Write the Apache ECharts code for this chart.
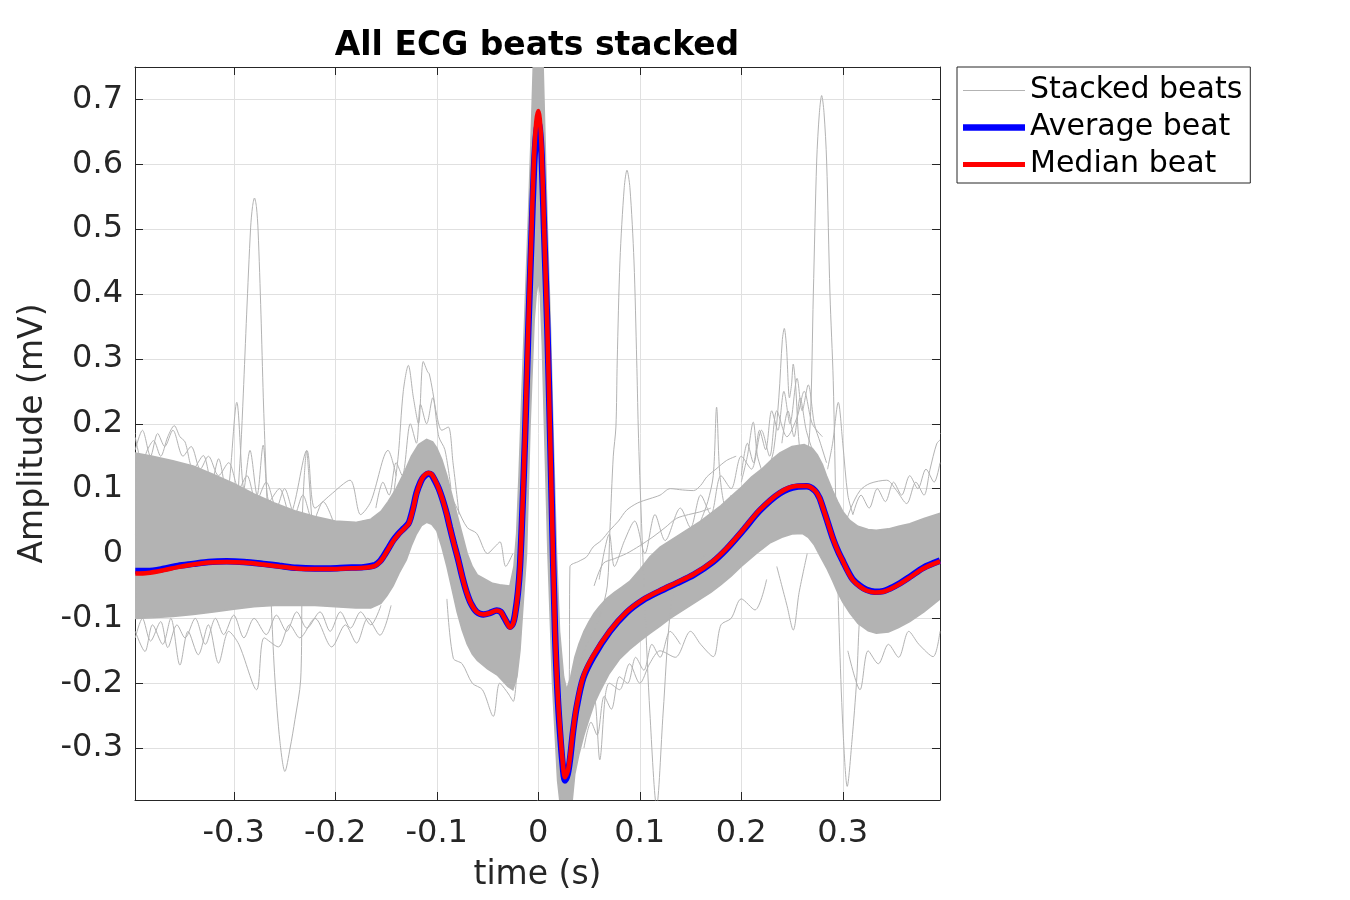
<!DOCTYPE html>
<html><head><meta charset="utf-8">
<script src="https://cdn.jsdelivr.net/npm/echarts@6/dist/echarts.min.js"></script>
<style>html,body{margin:0;padding:0;background:#fff}#c{width:1350px;height:900px}</style>
</head><body><div id="c"></div>
<script>
// ---- tick values / labels ----
const xTicks = [-0.3, -0.2, -0.1, 0, 0.1, 0.2, 0.3];
const xTickLabels = ['-0.3', '-0.2', '-0.1', '0', '0.1', '0.2', '0.3'];
const yTicks = [-0.3, -0.2, -0.1, 0, 0.1, 0.2, 0.3, 0.4, 0.5, 0.6, 0.7];
const yTickLabels = ['-0.3', '-0.2', '-0.1', '0', '0.1', '0.2', '0.3', '0.4', '0.5', '0.6', '0.7'];

// ---- average beat [time s, amplitude mV] ----
const averageBeat = [[-0.397,-0.027],[-0.385,-0.027],[-0.37,-0.024],[-0.355,-0.019],[-0.34,-0.016],[-0.325,-0.013],[-0.307,-0.012],[-0.29,-0.013],[-0.271,-0.016],[-0.255,-0.019],[-0.238,-0.022],[-0.22,-0.023],[-0.205,-0.023],[-0.19,-0.022],[-0.172,-0.021],[-0.161,-0.018],[-0.156,-0.012],[-0.1527,-0.005],[-0.148,0.007],[-0.143,0.020],[-0.138,0.030],[-0.133,0.038],[-0.128,0.046],[-0.126,0.054],[-0.123,0.072],[-0.120,0.093],[-0.116,0.110],[-0.113,0.118],[-0.108,0.123],[-0.105,0.121],[-0.102,0.113],[-0.098,0.100],[-0.0936,0.080],[-0.090,0.060],[-0.087,0.040],[-0.083,0.015],[-0.0788,-0.010],[-0.075,-0.035],[-0.0705,-0.060],[-0.066,-0.078],[-0.0607,-0.090],[-0.054,-0.094],[-0.048,-0.092],[-0.041,-0.088],[-0.037,-0.090],[-0.0345,-0.096],[-0.031,-0.106],[-0.0279,-0.113],[-0.025,-0.108],[-0.023,-0.095],[-0.020,-0.060],[-0.018,-0.020],[-0.0155,0.070],[-0.013,0.180],[-0.0099,0.340],[-0.0065,0.495],[-0.0042,0.595],[-0.002,0.648],[0.0,0.665],[0.0015,0.655],[0.0033,0.615],[0.0058,0.495],[0.009,0.345],[0.0115,0.195],[0.0132,0.085],[0.0165,-0.120],[0.019,-0.215],[0.0214,-0.275],[0.024,-0.325],[0.0263,-0.350],[0.029,-0.340],[0.0312,-0.318],[0.0345,-0.272],[0.0378,-0.237],[0.0443,-0.192],[0.054,-0.160],[0.0706,-0.120],[0.087,-0.091],[0.103,-0.072],[0.120,-0.058],[0.136,-0.046],[0.153,-0.033],[0.172,-0.013],[0.1856,0.007],[0.202,0.036],[0.218,0.066],[0.238,0.093],[0.2546,0.103],[0.2644,0.1035],[0.2726,0.097],[0.277,0.086],[0.281,0.068],[0.2856,0.046],[0.2906,0.022],[0.2955,0.003],[0.3005,-0.013],[0.305,-0.027],[0.310,-0.040],[0.317,-0.050],[0.3234,-0.056],[0.3317,-0.059],[0.340,-0.058],[0.3465,-0.054],[0.355,-0.047],[0.366,-0.036],[0.3793,-0.022],[0.3958,-0.011]];

// ---- median beat [time s, amplitude mV] ----
const medianBeat = [[-0.397,-0.031],[-0.385,-0.030],[-0.37,-0.026],[-0.355,-0.021],[-0.34,-0.017],[-0.325,-0.014],[-0.307,-0.013],[-0.29,-0.014],[-0.271,-0.017],[-0.255,-0.020],[-0.238,-0.023],[-0.22,-0.024],[-0.205,-0.024],[-0.19,-0.023],[-0.172,-0.022],[-0.161,-0.019],[-0.156,-0.013],[-0.1527,-0.006],[-0.148,0.006],[-0.143,0.019],[-0.138,0.029],[-0.133,0.037],[-0.128,0.045],[-0.126,0.053],[-0.123,0.071],[-0.120,0.092],[-0.116,0.110],[-0.113,0.119],[-0.108,0.124],[-0.105,0.122],[-0.102,0.114],[-0.098,0.100],[-0.0936,0.080],[-0.090,0.060],[-0.087,0.040],[-0.083,0.015],[-0.0788,-0.010],[-0.075,-0.035],[-0.0705,-0.060],[-0.066,-0.078],[-0.0607,-0.090],[-0.054,-0.094],[-0.048,-0.092],[-0.041,-0.088],[-0.037,-0.090],[-0.0345,-0.096],[-0.031,-0.106],[-0.0279,-0.114],[-0.025,-0.109],[-0.023,-0.096],[-0.020,-0.060],[-0.018,-0.020],[-0.0155,0.072],[-0.013,0.185],[-0.0099,0.345],[-0.0065,0.505],[-0.0042,0.610],[-0.002,0.665],[0.0,0.682],[0.0015,0.670],[0.0033,0.625],[0.0058,0.500],[0.009,0.345],[0.0115,0.192],[0.0132,0.082],[0.0165,-0.120],[0.019,-0.212],[0.0214,-0.270],[0.024,-0.320],[0.0263,-0.345],[0.029,-0.336],[0.0312,-0.315],[0.0345,-0.270],[0.0378,-0.235],[0.0443,-0.190],[0.054,-0.158],[0.0706,-0.119],[0.087,-0.090],[0.103,-0.071],[0.120,-0.057],[0.136,-0.045],[0.153,-0.032],[0.172,-0.012],[0.1856,0.008],[0.202,0.037],[0.218,0.067],[0.238,0.094],[0.2546,0.104],[0.2644,0.104],[0.2726,0.097],[0.277,0.086],[0.281,0.068],[0.2856,0.046],[0.2906,0.022],[0.2955,0.003],[0.3005,-0.013],[0.305,-0.028],[0.310,-0.041],[0.317,-0.051],[0.3234,-0.057],[0.3317,-0.060],[0.340,-0.059],[0.3465,-0.055],[0.355,-0.048],[0.366,-0.037],[0.3793,-0.023],[0.3958,-0.012]];

// ---- stacked beats: dense band envelopes (max / min of the bulk of beats) ----
const bandUpper = [[-0.397,0.155],[-0.38,0.15],[-0.36,0.143],[-0.34,0.135],[-0.32,0.122],[-0.30,0.108],[-0.28,0.092],[-0.26,0.078],[-0.24,0.066],[-0.22,0.057],[-0.2,0.05],[-0.18,0.048],[-0.165,0.053],[-0.155,0.065],[-0.148,0.08],[-0.14,0.10],[-0.132,0.125],[-0.125,0.15],[-0.118,0.168],[-0.11,0.176],[-0.104,0.172],[-0.1,0.163],[-0.095,0.145],[-0.09,0.12],[-0.085,0.09],[-0.08,0.06],[-0.075,0.03],[-0.07,0.0],[-0.065,-0.02],[-0.06,-0.033],[-0.052,-0.04],[-0.045,-0.046],[-0.038,-0.048],[-0.028,-0.05],[-0.024,-0.02],[-0.0213,0.031],[-0.019,0.12],[-0.0164,0.236],[-0.013,0.38],[-0.0095,0.53],[-0.0065,0.67],[-0.004,0.8],[0.004,0.8],[0.0065,0.65],[0.009,0.5],[0.012,0.35],[0.0145,0.195],[0.018,0.0],[0.021,-0.12],[0.025,-0.19],[0.028,-0.21],[0.032,-0.19],[0.036,-0.16],[0.04,-0.14],[0.045,-0.12],[0.05,-0.105],[0.055,-0.092],[0.06,-0.082],[0.067,-0.07],[0.075,-0.06],[0.082,-0.052],[0.09,-0.043],[0.1,-0.025],[0.11,-0.005],[0.12,0.01],[0.13,0.02],[0.14,0.03],[0.15,0.04],[0.16,0.05],[0.17,0.062],[0.18,0.074],[0.19,0.088],[0.2,0.102],[0.21,0.118],[0.22,0.13],[0.23,0.145],[0.238,0.155],[0.25,0.165],[0.262,0.168],[0.27,0.162],[0.275,0.152],[0.28,0.137],[0.284,0.12],[0.29,0.097],[0.295,0.08],[0.3,0.065],[0.307,0.051],[0.315,0.042],[0.325,0.037],[0.333,0.036],[0.345,0.038],[0.355,0.042],[0.366,0.046],[0.38,0.054],[0.396,0.062]];
const bandLower = [[-0.397,-0.10],[-0.38,-0.099],[-0.36,-0.097],[-0.34,-0.094],[-0.32,-0.09],[-0.30,-0.086],[-0.28,-0.082],[-0.26,-0.08],[-0.24,-0.08],[-0.22,-0.08],[-0.2,-0.082],[-0.18,-0.084],[-0.165,-0.084],[-0.155,-0.077],[-0.149,-0.065],[-0.143,-0.05],[-0.137,-0.03],[-0.13,-0.01],[-0.125,0.012],[-0.12,0.03],[-0.115,0.043],[-0.11,0.048],[-0.105,0.045],[-0.1,0.035],[-0.095,0.01],[-0.09,-0.02],[-0.085,-0.055],[-0.08,-0.09],[-0.075,-0.118],[-0.07,-0.14],[-0.065,-0.155],[-0.06,-0.165],[-0.05,-0.178],[-0.04,-0.188],[-0.03,-0.205],[-0.025,-0.21],[-0.021,-0.19],[-0.018,-0.15],[-0.015,-0.08],[-0.0115,0.0],[-0.008,0.2],[-0.004,0.36],[-0.002,0.4],[0.0,0.42],[0.002,0.4],[0.004,0.32],[0.006,0.2],[0.0095,0.0],[0.014,-0.2],[0.019,-0.35],[0.024,-0.42],[0.031,-0.42],[0.036,-0.34],[0.04,-0.31],[0.045,-0.28],[0.05,-0.255],[0.055,-0.232],[0.06,-0.215],[0.07,-0.185],[0.08,-0.163],[0.09,-0.148],[0.1,-0.135],[0.11,-0.123],[0.12,-0.112],[0.13,-0.1],[0.14,-0.09],[0.15,-0.08],[0.16,-0.07],[0.17,-0.06],[0.18,-0.048],[0.19,-0.035],[0.2,-0.02],[0.215,0.0],[0.228,0.016],[0.24,0.025],[0.25,0.03],[0.26,0.031],[0.266,0.025],[0.272,0.013],[0.278,-0.005],[0.284,-0.022],[0.29,-0.042],[0.295,-0.06],[0.3,-0.075],[0.307,-0.092],[0.315,-0.108],[0.325,-0.119],[0.333,-0.123],[0.345,-0.121],[0.355,-0.114],[0.366,-0.105],[0.38,-0.09],[0.396,-0.07]];

// ---- stacked beats: individual traces that leave the band ----
const beatA = [[-0.397,0.03],[-0.38,0.06],[-0.365,0.02],[-0.35,0.05],[-0.335,0.0],[-0.32,0.03],[-0.305,-0.01],[-0.298,0.03],[-0.295,0.113],[-0.293,0.164],[-0.2906,0.246],[-0.2873,0.369],[-0.2834,0.502],[-0.2815,0.535],[-0.2796,0.548],[-0.2777,0.535],[-0.276,0.497],[-0.2732,0.369],[-0.2709,0.241],[-0.2686,0.138],[-0.2667,0.06],[-0.2627,-0.092],[-0.2594,-0.195],[-0.2545,-0.29],[-0.2496,-0.336],[-0.2445,-0.30],[-0.2397,-0.256],[-0.2341,-0.195],[-0.233,-0.092],[-0.2325,0.05],[-0.2305,0.12],[-0.2282,0.158],[-0.226,0.12],[-0.222,0.04],[-0.215,0.0],[-0.205,0.03],[-0.19,-0.02],[-0.175,0.02],[-0.16,-0.01]];
const beatB = [[0.035,-0.2],[0.045,-0.15],[0.055,-0.12],[0.062,-0.09],[0.068,-0.05],[0.0706,0.036],[0.0739,0.15],[0.0765,0.195],[0.0778,0.297],[0.0805,0.451],[0.0847,0.564],[0.0874,0.591],[0.0903,0.564],[0.0943,0.451],[0.097,0.297],[0.0985,0.195],[0.1,0.12],[0.105,-0.08],[0.11,-0.246],[0.1166,-0.39],[0.123,-0.246],[0.13,-0.092],[0.138,-0.04],[0.15,-0.03],[0.165,0.0]];
const beatC = [[0.22,0.07],[0.24,0.12],[0.255,0.10],[0.262,0.12],[0.2677,0.195],[0.271,0.40],[0.2743,0.605],[0.277,0.68],[0.2792,0.706],[0.2815,0.68],[0.2841,0.605],[0.2874,0.40],[0.2906,0.267],[0.2935,0.05],[0.297,-0.144],[0.3005,-0.28],[0.3044,-0.359],[0.309,-0.29],[0.3137,-0.195],[0.317,-0.092],[0.322,-0.05],[0.33,-0.03],[0.345,-0.06],[0.36,-0.03]];
const beatD = [[0.225,0.12],[0.232,0.16],[0.237,0.24],[0.2405,0.33],[0.2424,0.347],[0.2445,0.32],[0.2475,0.24],[0.2495,0.26],[0.2512,0.292],[0.2535,0.26],[0.257,0.17],[0.262,0.13],[0.27,0.14]];
const beatE = [[0.16,0.05],[0.167,0.08],[0.1724,0.12],[0.1757,0.2256],[0.179,0.12],[0.185,0.07],[0.19,0.09]];
const beatF = [[0.2,0.11],[0.206,0.15],[0.2118,0.2025],[0.216,0.15],[0.222,0.12]];
const beatG = [[0.285,0.13],[0.29,0.17],[0.2956,0.233],[0.3,0.17],[0.305,0.09],[0.31,0.06]];
const beatH = [[-0.145,0.06],[-0.138,0.15],[-0.133,0.25],[-0.128,0.29],[-0.123,0.24],[-0.118,0.2],[-0.1133,0.296],[-0.109,0.28],[-0.1074,0.277],[-0.104,0.25],[-0.1,0.213],[-0.095,0.19],[-0.0887,0.195],[-0.084,0.14],[-0.078,0.06]];
const beatI = [[-0.397,0.179],[-0.39,0.14],[-0.385,0.16],[-0.379,0.174],[-0.372,0.15],[-0.365,0.18],[-0.3586,0.197],[-0.353,0.18],[-0.348,0.172],[-0.34,0.13],[-0.33,0.151],[-0.322,0.11],[-0.315,0.146],[-0.307,0.09],[-0.297,0.233],[-0.29,0.1],[-0.284,0.159],[-0.277,0.09],[-0.271,0.167],[-0.265,0.08],[-0.255,0.1],[-0.245,0.06],[-0.228,0.159],[-0.22,0.07],[-0.205,0.09],[-0.1855,0.113],[-0.175,0.06],[-0.165,0.08],[-0.148,0.159],[-0.14,0.12]];
const beatJ = [[-0.397,-0.12],[-0.3875,-0.151],[-0.38,-0.11],[-0.37,-0.14],[-0.362,-0.1],[-0.353,-0.172],[-0.345,-0.12],[-0.335,-0.156],[-0.325,-0.11],[-0.315,-0.169],[-0.305,-0.12],[-0.295,-0.14],[-0.2775,-0.21],[-0.27,-0.13],[-0.256,-0.144],[-0.245,-0.11],[-0.235,-0.13],[-0.22,-0.1],[-0.2035,-0.144],[-0.19,-0.11],[-0.179,-0.138],[-0.168,-0.1],[-0.156,-0.126],[-0.145,-0.08]];
const beatK = [[-0.09,-0.07],[-0.0837,-0.1615],[-0.075,-0.17],[-0.065,-0.2],[-0.055,-0.21],[-0.0443,-0.251],[-0.038,-0.2],[-0.03,-0.215],[-0.0246,-0.228],[-0.02,-0.15]];
const beatL = [[-0.09,0.1],[-0.08,0.07],[-0.07,0.04],[-0.0607,0.031],[-0.05,0.0],[-0.043,0.01],[-0.0377,0.018],[-0.032,-0.02],[-0.025,0.0]];
const beatM = [[0.024,-0.33],[0.028,-0.30],[0.0305,-0.2],[0.0312,-0.0205],[0.04,-0.012],[0.0477,-0.005],[0.054,0.010],[0.062,0.02],[0.0706,0.036],[0.079,0.05],[0.087,0.0667],[0.098,0.078],[0.11,0.0846],[0.12,0.09],[0.13,0.10],[0.142,0.098],[0.153,0.097],[0.16,0.105],[0.166,0.118],[0.175,0.13],[0.1856,0.1435],[0.195,0.15]];
const beatN = [[0.055,-0.05],[0.064,-0.0154],[0.075,-0.008],[0.087,0.0],[0.1,0.012],[0.113,0.0256],[0.125,0.04],[0.136,0.054],[0.148,0.06],[0.159,0.064],[0.17,0.07]];
const beatO = [[0.04,-0.30],[0.05,-0.24],[0.055,-0.22],[0.0606,-0.318],[0.066,-0.22],[0.07,-0.2],[0.08,-0.21],[0.09,-0.17],[0.1,-0.2],[0.11,-0.169],[0.12,-0.15],[0.135,-0.16],[0.15,-0.12],[0.16,-0.14],[0.1724,-0.159],[0.18,-0.11],[0.19,-0.1],[0.2,-0.07],[0.2135,-0.087],[0.225,-0.04]];
const beatP = [[0.06,-0.04],[0.07,0.03],[0.075,-0.02],[0.085,0.02],[0.095,0.05],[0.105,0.0],[0.115,0.06],[0.125,0.02],[0.14,0.07],[0.15,0.04],[0.16,0.09],[0.17,0.06],[0.18,0.12],[0.19,0.1],[0.2,0.15],[0.21,0.13],[0.22,0.19],[0.228,0.15],[0.235,0.22],[0.245,0.18],[0.255,0.21],[0.262,0.25],[0.27,0.2],[0.28,0.18]];
const beatQ = [[0.3005,0.036],[0.308,0.07],[0.317,0.097],[0.3268,0.108],[0.3433,0.113],[0.353,0.097],[0.363,0.077],[0.372,0.11],[0.38,0.09],[0.386,0.13],[0.3925,0.169],[0.3958,0.175]];
const beatR = [[0.305,-0.15],[0.317,-0.21],[0.325,-0.15],[0.335,-0.17],[0.345,-0.14],[0.355,-0.16],[0.365,-0.12],[0.375,-0.14],[0.389,-0.159],[0.3958,-0.12]];
const beatS = [[0.235,-0.02],[0.245,-0.08],[0.2512,-0.118],[0.257,-0.06],[0.265,0.0]];
const beatT = [[0.24,0.17],[0.246,0.22],[0.252,0.18],[0.258,0.24],[0.264,0.19],[0.27,0.16]];
const beatU = [[-0.397,0.16],[-0.39,0.19],[-0.382,0.15],[-0.375,0.185],[-0.368,0.165],[-0.36,0.19],[-0.35,0.15],[-0.342,0.165],[-0.333,0.13],[-0.325,0.15],[-0.315,0.12],[-0.305,0.14],[-0.295,0.1],[-0.287,0.12],[-0.278,0.08],[-0.268,0.11],[-0.258,0.07],[-0.25,0.1],[-0.24,0.06],[-0.232,0.09],[-0.222,0.05],[-0.212,0.08],[-0.2,0.04]];
const beatV = [[-0.397,-0.13],[-0.39,-0.1],[-0.382,-0.135],[-0.372,-0.105],[-0.365,-0.145],[-0.356,-0.11],[-0.348,-0.13],[-0.338,-0.1],[-0.328,-0.14],[-0.318,-0.1],[-0.31,-0.125],[-0.3,-0.095],[-0.29,-0.13],[-0.28,-0.1],[-0.268,-0.125],[-0.258,-0.095],[-0.248,-0.12],[-0.238,-0.09],[-0.228,-0.115],[-0.215,-0.09],[-0.205,-0.12],[-0.195,-0.09],[-0.185,-0.115],[-0.175,-0.09],[-0.165,-0.11],[-0.155,-0.08]];
const beatW = [[-0.16,0.07],[-0.153,0.11],[-0.147,0.09],[-0.14,0.14],[-0.134,0.12],[-0.126,0.2],[-0.12,0.17],[-0.116,0.23],[-0.11,0.2],[-0.104,0.24],[-0.098,0.18],[-0.092,0.16],[-0.086,0.1]];
const beatX = [[0.2,0.12],[0.206,0.17],[0.212,0.14],[0.218,0.19],[0.224,0.16],[0.23,0.22],[0.236,0.19],[0.242,0.25],[0.248,0.2],[0.255,0.27],[0.26,0.22],[0.266,0.26],[0.272,0.2],[0.278,0.17],[0.284,0.14]];
const beatY = [[0.045,-0.3],[0.052,-0.26],[0.058,-0.28],[0.065,-0.22],[0.072,-0.24],[0.08,-0.19],[0.088,-0.2],[0.096,-0.16],[0.104,-0.18],[0.112,-0.14],[0.12,-0.16],[0.13,-0.12],[0.14,-0.14]];
const beatZ = [[0.31,0.06],[0.318,0.09],[0.326,0.07],[0.334,0.1],[0.342,0.08],[0.35,0.11],[0.358,0.09],[0.366,0.12],[0.374,0.1],[0.382,0.13],[0.39,0.11],[0.3958,0.14]];

const outlierBeats = [beatA, beatB, beatC, beatD, beatE, beatF, beatG, beatH, beatI, beatJ, beatK, beatL, beatM, beatN, beatO, beatP, beatQ, beatR, beatS, beatT, beatU, beatV, beatW, beatX, beatY, beatZ];

// ---- build chart ----
const FONT = 'DejaVu Sans';
const TXT = '#262626';
const GREY = '#b3b3b3';
const bandPoly = bandUpper.concat(bandLower.slice().reverse());

function labelFrom(ticks, labels) {
  return function (v) {
    let best = 0;
    for (let i = 1; i < ticks.length; i++) if (Math.abs(ticks[i] - v) < Math.abs(ticks[best] - v)) best = i;
    return labels[best];
  };
}

const series = [];
outlierBeats.forEach(function (b) {
  series.push({
    name: 'Stacked beats', type: 'line', data: b, symbol: 'none', smooth: 0.3,
    silent: true, z: 2,
    lineStyle: { color: GREY, width: 1 }, itemStyle: { color: GREY }
  });
});
series.push({
  name: 'Stacked beats', type: 'custom', data: bandPoly, clip: true, silent: true, z: 2,
  encode: { x: 0, y: 1 },
  renderItem: function (params, api) {
    if (params.dataIndex !== 0) return null;
    const pts = bandPoly.map(function (p) { return api.coord(p); });
    return { type: 'polygon', shape: { points: pts }, style: { fill: GREY, stroke: GREY, lineWidth: 1.5 } };
  }
});
series.push({
  name: 'Average beat', type: 'line', data: averageBeat, symbol: 'none', smooth: 0.3, z: 5,
  lineStyle: { color: '#0000ff', width: 6.5 }, itemStyle: { color: '#0000ff' }
});
series.push({
  name: 'Median beat', type: 'line', data: medianBeat, symbol: 'none', smooth: 0.3, z: 6,
  lineStyle: { color: '#ff0000', width: 4.5 }, itemStyle: { color: '#ff0000' }
});

const XMIN = -0.3973, XMAX = 0.3958, YMIN = -0.38, YMAX = 0.75;
const tickStyle = { show: true, inside: true, length: 8, lineStyle: { color: TXT, width: 1 } };

const option = {
  animation: false,
  backgroundColor: '#ffffff',
  title: {
    text: 'All ECG beats stacked', left: 532, top: 25, textAlign: 'center',
    textStyle: { fontFamily: FONT, fontWeight: 'bold', fontSize: 33, color: '#000' }
  },
  legend: {
    left: 957, top: 67, orient: 'vertical',
    padding: [5, 8, 0, 6], itemGap: 0, itemWidth: 62, itemHeight: 14,
    borderColor: TXT, borderWidth: 1, backgroundColor: '#fff',
    textStyle: { fontFamily: FONT, fontSize: 30, color: '#000', lineHeight: 37 },
    data: [
      { name: 'Stacked beats', icon: 'path://M0,0H62V1H0Z' },
      { name: 'Average beat', icon: 'path://M0,0H62V6.5H0Z' },
      { name: 'Median beat', icon: 'path://M0,0H62V5H0Z' }
    ],
    selectedMode: false
  },
  grid: { left: 135, top: 67, width: 805, height: 733, containLabel: false },
  xAxis: [{
    type: 'value', min: XMIN, max: XMAX, position: 'bottom',
    name: 'time (s)', nameLocation: 'middle', nameGap: 59,
    nameTextStyle: { fontFamily: FONT, fontSize: 33, color: TXT },
    axisLine: { show: true, onZero: false, lineStyle: { color: TXT, width: 1 } },
    axisTick: Object.assign({ customValues: xTicks }, tickStyle),
    axisLabel: { customValues: xTicks, formatter: labelFrom(xTicks, xTickLabels), margin: 18, fontFamily: FONT, fontSize: 32, color: TXT },
    splitLine: { show: true, lineStyle: { color: '#e0e0e0', width: 1 } }
  }, {
    type: 'value', min: XMIN, max: XMAX, position: 'top',
    axisLine: { show: true, onZero: false, lineStyle: { color: TXT, width: 1 } },
    axisTick: Object.assign({ customValues: xTicks }, tickStyle),
    axisLabel: { show: false }, splitLine: { show: false }
  }],
  yAxis: [{
    type: 'value', min: YMIN, max: YMAX, position: 'left',
    name: 'Amplitude (mV)', nameLocation: 'middle', nameGap: 79,
    nameTextStyle: { fontFamily: FONT, fontSize: 33, color: TXT },
    axisLine: { show: true, onZero: false, lineStyle: { color: TXT, width: 1 } },
    axisTick: Object.assign({ customValues: yTicks }, tickStyle),
    axisLabel: { customValues: yTicks, formatter: labelFrom(yTicks, yTickLabels), margin: 12, fontFamily: FONT, fontSize: 32, color: TXT },
    splitLine: { show: true, lineStyle: { color: '#e0e0e0', width: 1 } }
  }, {
    type: 'value', min: YMIN, max: YMAX, position: 'right',
    axisLine: { show: true, onZero: false, lineStyle: { color: TXT, width: 1 } },
    axisTick: Object.assign({ customValues: yTicks }, tickStyle),
    axisLabel: { show: false }, splitLine: { show: false }
  }],
  series: series
};

const chart = echarts.init(document.getElementById('c'), null, { renderer: 'canvas' });
chart.setOption(option);
</script>
</body></html>
